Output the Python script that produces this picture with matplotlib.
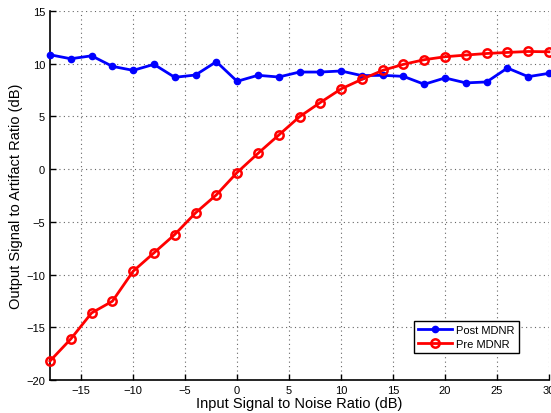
import matplotlib
matplotlib.use("Agg")
import matplotlib.pyplot as plt

plt.rcParams['font.family'] = ['Liberation Sans', 'DejaVu Sans']

snr = [-18, -16, -14, -12, -10, -8, -6, -4, -2, 0, 2, 4, 6, 8, 10, 12, 14, 16, 18, 20, 22, 24, 26, 28, 30]
post_mdnr = [10.85, 10.47, 10.75, 9.75, 9.37, 9.94, 8.71, 8.93, 10.19, 8.33, 8.90, 8.74, 9.21, 9.21, 9.31,
             8.87, 8.90, 8.80, 8.05, 8.65, 8.18, 8.27, 9.59, 8.77, 9.09]
pre_mdnr = [-18.2, -16.11, -13.64, -12.53, -9.68, -7.94, -6.2, -4.15, -2.44, -0.32, 1.49, 3.23, 4.97, 6.32, 7.61,
            8.52, 9.37, 9.94, 10.38, 10.66, 10.82, 10.97, 11.07, 11.16, 11.13]
xticks = [-15, -10, -5, 0, 5, 10, 15, 20, 25, 30]
yticks = [-20, -15, -10, -5, 0, 5, 10, 15]

fig = plt.figure(figsize=(5.51, 4.14), dpi=100)
ax = fig.add_axes([50/551, 1 - 381/414, (549-50)/551, (381-12)/414])

ax.plot(snr, post_mdnr, color='#0000ff', lw=2, marker='o', ms=4.5, mfc='#0000ff', mec='#0000ff',
        label='Post MDNR', clip_on=False, zorder=3)
ax.plot(snr, pre_mdnr, color='#ff0000', lw=2, marker='o', ms=6, mfc='none', mec='#ff0000', mew=1.8,
        label='Pre MDNR', clip_on=False, zorder=3)

ax.set_xlim(-18, 30)
ax.set_ylim(-20, 15)
ax.set_xticks(xticks)
ax.set_yticks(yticks)
ax.set_xticklabels([f"\u2212{-v}" if v < 0 else str(v) for v in xticks])
ax.set_yticklabels([f"\u2212{-v}" if v < 0 else str(v) for v in yticks])
ax.tick_params(direction='in', length=4, width=1, labelsize=8, colors='black')
ax.grid(True, linestyle=(0, (1, 3)), color='#666666', lw=0.8)
for s in ['top', 'right']:
    ax.spines[s].set_visible(False)
for s in ['left', 'bottom']:
    ax.spines[s].set_linewidth(1.2)

ax.set_xlabel('Input Signal to Noise Ratio (dB)', fontsize=10.5, labelpad=1)
ax.set_ylabel('Output Signal to Artifact Ratio (dB)', fontsize=10.5, labelpad=2)

leg = ax.legend(loc='lower right', bbox_to_anchor=(519/551, 1 - 354/414), bbox_transform=fig.transFigure,
                borderaxespad=0, fontsize=8, fancybox=False, framealpha=1, edgecolor='black', borderpad=0.4,
                handlelength=3, labelspacing=0.3, handletextpad=0.4)
leg.get_frame().set_linewidth(1)

fig.savefig('out.png', dpi=100)
